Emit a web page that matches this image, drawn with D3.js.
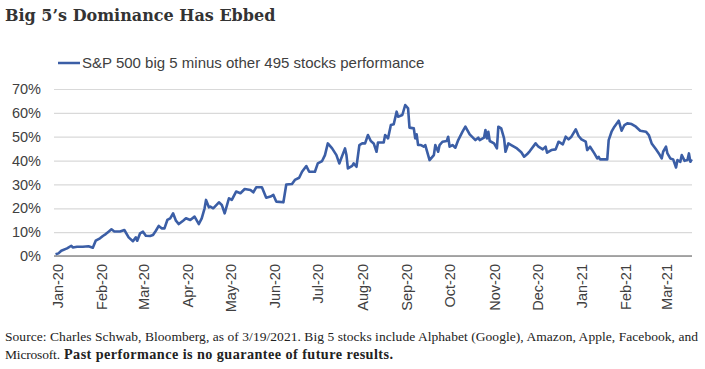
<!DOCTYPE html>
<html>
<head>
<meta charset="utf-8">
<script src="https://cdn.jsdelivr.net/npm/d3@7"></script>
<style>
  body { margin: 0; background: #fff; }
  svg { display: block; }
</style>
</head>
<body>
<div id="chart"></div>
<script>
// data (percent)
var dates = [
  "2019-12-31","2020-01-02","2020-01-04","2020-01-08","2020-01-11","2020-01-12","2020-01-15","2020-01-19","2020-01-23","2020-01-26",
  "2020-01-28","2020-01-31","2020-02-02","2020-02-04","2020-02-06","2020-02-08","2020-02-10","2020-02-14","2020-02-17","2020-02-20",
  "2020-02-23","2020-02-25","2020-02-26","2020-02-28","2020-03-01","2020-03-03","2020-03-06","2020-03-08","2020-03-10","2020-03-12",
  "2020-03-14","2020-03-16","2020-03-18","2020-03-20","2020-03-22","2020-03-24","2020-03-26","2020-03-29","2020-03-31","2020-04-03",
  "2020-04-06","2020-04-09","2020-04-11","2020-04-13","2020-04-14","2020-04-16","2020-04-17","2020-04-19","2020-04-23","2020-04-25",
  "2020-04-27","2020-04-30","2020-05-02","2020-05-05","2020-05-08","2020-05-11","2020-05-15","2020-05-17","2020-05-19","2020-05-23",
  "2020-05-26","2020-05-29","2020-05-31","2020-06-02","2020-06-07","2020-06-09","2020-06-13","2020-06-15","2020-06-18","2020-06-20",
  "2020-06-23","2020-06-25","2020-06-29","2020-07-01","2020-07-04","2020-07-06","2020-07-08","2020-07-11","2020-07-14","2020-07-16",
  "2020-07-20","2020-07-21","2020-07-22","2020-07-25","2020-07-26","2020-07-28","2020-07-30","2020-08-01","2020-08-03","2020-08-05",
  "2020-08-07","2020-08-09","2020-08-11","2020-08-12","2020-08-16","2020-08-17","2020-08-19","2020-08-21","2020-08-23","2020-08-25",
  "2020-08-26","2020-08-29","2020-08-31","2020-09-02","2020-09-03","2020-09-06","2020-09-07","2020-09-08","2020-09-09","2020-09-11",
  "2020-09-13","2020-09-14","2020-09-17","2020-09-20","2020-09-21","2020-09-23","2020-09-24","2020-09-26","2020-09-29","2020-09-30",
  "2020-10-01","2020-10-03","2020-10-05","2020-10-07","2020-10-10","2020-10-12","2020-10-15","2020-10-19","2020-10-21","2020-10-22",
  "2020-10-25","2020-10-26","2020-10-27","2020-10-28","2020-10-29","2020-11-01","2020-11-03","2020-11-04","2020-11-06","2020-11-08",
  "2020-11-09","2020-11-11","2020-11-13","2020-11-17","2020-11-20","2020-11-22","2020-11-24","2020-11-26","2020-11-30","2020-12-02",
  "2020-12-05","2020-12-07","2020-12-08","2020-12-11","2020-12-14","2020-12-16","2020-12-19","2020-12-21","2020-12-23","2020-12-25",
  "2020-12-28","2020-12-30","2021-01-01","2021-01-04","2021-01-05","2021-01-07","2021-01-10","2021-01-12","2021-01-13","2021-01-14",
  "2021-01-19","2021-01-20","2021-01-22","2021-01-24","2021-01-27","2021-01-29","2021-01-31","2021-02-02","2021-02-05","2021-02-08",
  "2021-02-11","2021-02-15","2021-02-17","2021-02-19","2021-02-22","2021-02-24","2021-02-26","2021-02-27","2021-03-01","2021-03-02",
  "2021-03-04","2021-03-06","2021-03-08","2021-03-09","2021-03-11","2021-03-12","2021-03-14","2021-03-16","2021-03-17","2021-03-18",
  "2021-03-19"
];
var values = [
  0.7, 1.1, 2.2, 3.2, 4.3, 3.6, 3.9, 3.9, 4.1, 3.5,
  6.4, 7.4, 8.4, 9.2, 10.2, 11.2, 10.3, 10.3, 10.9, 7.8,
  6.2, 7.8, 6.4, 9.5, 10.2, 8.5, 8.4, 8.8, 10.6, 12.6,
  11.6, 11.6, 15.1, 15.8, 17.9, 14.8, 13.4, 14.8, 15.8, 15.1,
  16.5, 13.4, 15.8, 20.0, 23.5, 20.4, 20.7, 20.0, 22.5, 21.4,
  17.9, 24.2, 23.5, 27.0, 26.3, 28.1, 27.7, 26.7, 28.8, 28.8,
  24.4, 24.9, 25.6, 22.8, 22.5, 30.0, 30.2, 31.9, 32.8, 35.3,
  37.7, 35.3, 35.3, 38.8, 39.8, 42.3, 47.2, 45.1, 42.3, 38.8,
  45.1, 42.3, 36.7, 37.8, 38.8, 37.4, 46.5, 47.2, 47.2, 50.7,
  48.2, 47.2, 43.7, 47.6, 47.6, 50.7, 49.3, 54.9, 55.2, 60.5,
  58.4, 59.1, 63.3, 61.9, 53.8, 53.5, 49.3, 51.0, 46.5, 46.5,
  45.8, 46.5, 40.2, 42.3, 46.5, 43.7, 46.5, 47.9, 48.2, 50.0,
  45.8, 46.5, 45.4, 48.6, 52.1, 54.2, 51.0, 48.6, 49.6, 48.6,
  49.6, 52.8, 49.3, 52.1, 48.2, 47.2, 45.1, 54.2, 53.5, 49.3,
  43.7, 47.2, 46.5, 45.1, 43.5, 41.6, 42.6, 44.0, 47.2, 45.8,
  44.7, 45.8, 43.3, 44.4, 44.7, 47.9, 46.8, 50.0, 48.9, 50.0,
  53.1, 50.3, 48.9, 47.9, 44.4, 45.8, 43.0, 40.9, 41.6, 40.5,
  40.5, 48.6, 52.1, 54.2, 56.7, 52.5, 54.9, 55.6, 55.3, 54.2,
  52.5, 52.1, 50.7, 47.2, 44.7, 43.0, 40.9, 43.7, 45.8, 43.0,
  40.9, 40.5, 37.1, 40.2, 39.5, 42.3, 39.9, 40.2, 43.0, 39.5,
  40.5
];
var monthTicks = ["2020-01-01","2020-02-01","2020-03-01","2020-04-01","2020-05-01","2020-06-01","2020-07-01",
  "2020-08-01","2020-09-01","2020-10-01","2020-11-01","2020-12-01","2021-01-01","2021-02-01","2021-03-01"];
var yTicks = [0, 10, 20, 30, 40, 50, 60, 70];
var seriesName = "S&P 500 big 5 minus other 495 stocks performance";

var W = 705, H = 369;
var parse = d3.timeParse("%Y-%m-%d");
var data = dates.map(function(d, i) { return {date: parse(d), value: values[i]}; });

var svg = d3.select("#chart")
  .append("svg")
    .attr("width", W)
    .attr("height", H);

// plot area
var left = 54, right = 692;

var x = d3.scaleTime()
  .domain([parse(monthTicks[0]), parse(monthTicks[monthTicks.length - 1])])
  .range([57, 666]);

var y = d3.scaleLinear()
  .domain([0, 70])
  .range([256, 89]);

// title
svg.append("text")
  .attr("x", 5)
  .attr("y", 21)
  .attr("font-family", "'DejaVu Serif', serif")
  .attr("font-weight", "bold")
  .attr("font-size", 16)
  .attr("fill", "#333")
  .text("Big 5\u2019s Dominance Has Ebbed");

// legend
svg.append("line")
  .attr("x1", 58).attr("x2", 80)
  .attr("y1", 63).attr("y2", 63)
  .attr("stroke", "#3b5ea6")
  .attr("stroke-width", 2.5);
svg.append("text")
  .attr("x", 82)
  .attr("y", 68)
  .attr("font-family", "'Liberation Sans', Arial, sans-serif")
  .attr("font-size", 15)
  .attr("fill", "#404040")
  .text(seriesName);

// gridlines + y labels
var yAxis = svg.append("g")
  .attr("transform", "translate(" + left + ",0)")
  .call(d3.axisLeft(y)
    .tickValues(yTicks)
    .tickFormat(function(d) { return d + "%"; })
    .tickSize(-(right - left))
    .tickPadding(13));
yAxis.select(".domain").remove();
yAxis.selectAll("line")
  .attr("stroke", "#d9d9d9")
  .attr("stroke-width", 1.2);
yAxis.selectAll("text")
  .attr("font-family", "'Liberation Sans', Arial, sans-serif")
  .attr("font-size", 14.5)
  .attr("fill", "#404040");

// baseline
svg.append("line")
  .attr("x1", left).attr("x2", right)
  .attr("y1", y(0)).attr("y2", y(0))
  .attr("stroke", "#8c8c8c")
  .attr("stroke-width", 1.3);

// x labels
var xAxis = svg.append("g")
  .attr("transform", "translate(0," + y(0) + ")")
  .call(d3.axisBottom(x)
    .tickValues(monthTicks.map(parse))
    .tickFormat(d3.timeFormat("%b-%y"))
    .tickSize(0));
xAxis.select(".domain").remove();
xAxis.selectAll("text")
  .attr("font-family", "'Liberation Sans', Arial, sans-serif")
  .attr("font-size", 14.5)
  .attr("fill", "#404040")
  .attr("text-anchor", "end")
  .attr("x", -8)
  .attr("y", 0)
  .attr("dy", "0.35em")
  .attr("transform", "rotate(-90)");

// the line
var line = d3.line()
  .x(function(d) { return x(d.date); })
  .y(function(d) { return y(d.value); });

svg.append("path")
  .datum(data)
  .attr("fill", "none")
  .attr("stroke", "#3b5ea6")
  .attr("stroke-width", 2.6)
  .attr("stroke-linejoin", "round")
  .attr("d", line);

// footnote
var note = svg.append("g")
  .attr("font-family", "'Liberation Serif', 'Times New Roman', serif")
  .attr("font-size", 13.5)
  .attr("fill", "#222");
note.append("text")
  .attr("x", 5)
  .attr("y", 341)
  .attr("textLength", 693)
  .attr("lengthAdjust", "spacing")
  .text("Source: Charles Schwab, Bloomberg, as of 3/19/2021. Big 5 stocks include Alphabet (Google), Amazon, Apple, Facebook, and");
note.append("text")
  .attr("x", 5)
  .attr("y", 359)
  .attr("textLength", 55)
  .attr("lengthAdjust", "spacing")
  .text("Microsoft.");
note.append("text")
  .attr("x", 64)
  .attr("y", 359)
  .attr("font-weight", "bold")
  .attr("font-size", 14.2)
  .attr("textLength", 329)
  .attr("lengthAdjust", "spacing")
  .text("Past performance is no guarantee of future results.");
</script>
</body>
</html>
